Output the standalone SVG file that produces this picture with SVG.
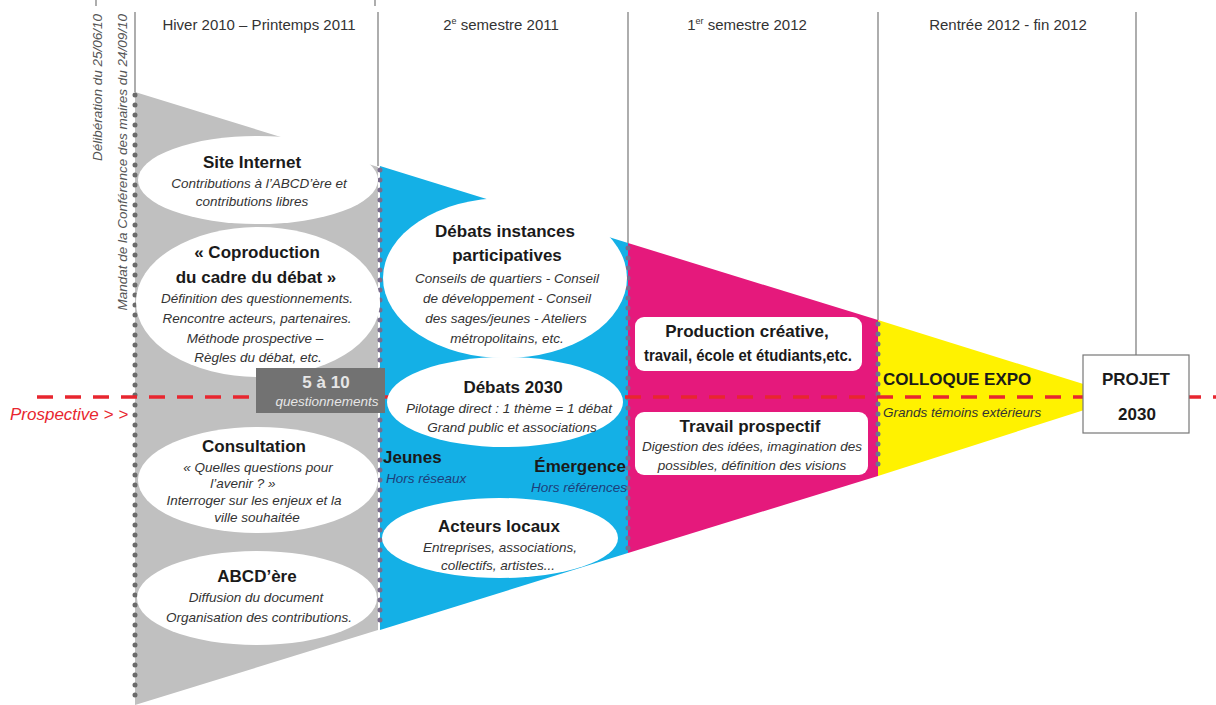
<svg xmlns="http://www.w3.org/2000/svg" width="1216" height="705" viewBox="0 0 1216 705">
<style>
text{font-family:"Liberation Sans",Arial,sans-serif}
.hdr{font-size:15px;fill:#333;text-anchor:middle}
.b{font-weight:bold;font-size:17px;fill:#1a1a1a;text-anchor:middle}
.i{font-style:italic;font-size:13.5px;fill:#333;text-anchor:middle}
.rot{font-style:italic;font-size:13.5px;fill:#555;text-anchor:end}
.col{stroke:#777;stroke-width:1.2;fill:none}
.dots{fill:none;stroke-width:5;stroke-linecap:round;stroke-dasharray:0 10}
.ell{fill:#fff}
.nav{font-style:italic;font-size:13.5px;fill:#1d3f7a}
</style>
<rect width="1216" height="705" fill="#fff"/>
<!-- top ticks -->
<line x1="96" y1="0" x2="96" y2="6" class="col"/>
<line x1="375" y1="0" x2="375" y2="6" class="col"/>
<!-- column lines -->
<g id="columns">
<line x1="135" y1="12" x2="135" y2="92" class="col"/>
<line x1="378" y1="12" x2="378" y2="166" class="col"/>
<line x1="628" y1="12" x2="628" y2="243" class="col"/>
<line x1="878" y1="12" x2="878" y2="320" class="col"/>
<line x1="1136" y1="12" x2="1136" y2="355" class="col"/>
<text class="hdr" x="259" y="30">Hiver 2010 – Printemps 2011</text>
<text class="hdr" x="501" y="30">2<tspan font-size="9" dy="-6">e</tspan><tspan dy="6"> semestre 2011</tspan></text>
<text class="hdr" x="747" y="30">1<tspan font-size="9" dy="-6">er</tspan><tspan dy="6"> semestre 2012</tspan></text>
<text class="hdr" x="1008" y="30">Rentrée 2012 - fin 2012</text>
<text class="rot" transform="translate(102,14) rotate(-90)">Délibération du 25/06/10</text>
<text class="rot" transform="translate(127,14) rotate(-90)">Mandat de la Conférence des maires du 24/09/10</text>
</g>
<!-- phase shapes -->
<g id="phases">
<polygon points="135,92 378,167 378,630 135,705" fill="#c0c0c0"/>
<polygon points="380,166 628,243 628,553 380,630" fill="#14b0e6"/>
<polygon points="628,243 878,320 878,476 628,553" fill="#e5197c"/>
<polygon points="878,320 1125,397 878,476" fill="#fff200"/>
<line x1="135" y1="95" x2="135" y2="702" class="dots" stroke="#6a6a6a"/>
<line x1="380" y1="170" x2="380" y2="628" class="dots" stroke="#7a6c8c"/>
<line x1="628" y1="248" x2="628" y2="550" class="dots" stroke="#7a6c8c"/>
<line x1="878" y1="324" x2="878" y2="474" class="dots" stroke="#6a7690"/>
</g>
<!-- timeline -->
<g id="connectors">
<line x1="37" y1="397" x2="1216" y2="397" stroke="#e8262f" stroke-width="3.5" stroke-dasharray="16 12"/>
<text x="10" y="420" font-style="italic" font-size="17" fill="#e8262f">Prospective &gt; &gt;</text>
</g>
<g id="site-internet">
<ellipse class="ell" cx="258" cy="180" rx="120" ry="44"/>
<text class="b" x="252" y="168">Site Internet</text>
<text class="i" x="259" y="188">Contributions à l’ABCD’ère et</text>
<text class="i" x="252" y="206">contributions libres</text>
</g>
<g id="coproduction">
<ellipse class="ell" cx="258" cy="302" rx="122" ry="75"/>
<text class="b" x="257" y="258">« Coproduction</text>
<text class="b" x="256" y="283">du cadre du débat »</text>
<text class="i" x="257" y="303">Définition des questionnements.</text>
<text class="i" x="257" y="323">Rencontre acteurs, partenaires.</text>
<text class="i" x="255" y="343">Méthode prospective –</text>
<text class="i" x="258" y="362">Règles du débat, etc.</text>
</g>
<g id="questionnements">
<rect x="256" y="368" width="129" height="45" fill="#727272"/>
<text class="b" x="326" y="388" style="fill:#e6e6e6" font-size="15">5 à 10</text>
<text class="i" x="327" y="406" style="fill:#e6e6e6">questionnements</text>
</g>
<g id="consultation">
<ellipse class="ell" cx="258" cy="480" rx="120" ry="53"/>
<text class="b" x="254" y="452">Consultation</text>
<text class="i" x="258" y="472">« Quelles questions pour</text>
<text class="i" x="243" y="488">l’avenir ? »</text>
<text class="i" x="254" y="505">Interroger sur les enjeux et la</text>
<text class="i" x="257" y="522">ville souhaitée</text>
</g>
<g id="abcdere">
<ellipse class="ell" cx="257" cy="598" rx="120" ry="47"/>
<text class="b" x="257" y="582">ABCD’ère</text>
<text class="i" x="256" y="602">Diffusion du document</text>
<text class="i" x="259" y="622">Organisation des contributions.</text>
</g>
<g id="debats-instances">
<ellipse class="ell" cx="505" cy="278" rx="122" ry="80"/>
<text class="b" x="505" y="237">Débats instances</text>
<text class="b" x="507" y="261">participatives</text>
<text class="i" x="507" y="283">Conseils de quartiers - Conseil</text>
<text class="i" x="507" y="303">de développement - Conseil</text>
<text class="i" x="506" y="323">des sages/jeunes - Ateliers</text>
<text class="i" x="507" y="343">métropolitains, etc.</text>
</g>
<g id="debats-2030">
<ellipse class="ell" cx="505" cy="402" rx="118" ry="45"/>
<text class="b" x="513" y="393">Débats 2030</text>
<text class="i" x="509" y="413">Pilotage direct : 1 thème = 1 débat</text>
<text class="i" x="512" y="432">Grand public et associations</text>
</g>
<g id="jeunes">
<text class="b" x="383" y="463" style="text-anchor:start" font-size="16.5">Jeunes</text>
<text class="nav" x="386" y="483">Hors réseaux</text>
</g>
<g id="emergence">
<text class="b" x="626" y="472" style="text-anchor:end" font-size="16.5">Émergence</text>
<text class="nav" x="627" y="492" text-anchor="end">Hors références</text>
</g>
<g id="acteurs-locaux">
<ellipse class="ell" cx="500" cy="538" rx="118" ry="40"/>
<text class="b" x="499" y="532">Acteurs locaux</text>
<text class="i" x="500" y="552">Entreprises, associations,</text>
<text class="i" x="498" y="570">collectifs, artistes...</text>
</g>
<g id="production-creative">
<rect x="635" y="317" width="227" height="54" rx="9" fill="#fff"/>
<text class="b" x="747" y="337" font-size="15">Production créative,</text>
<text class="b" x="748" y="361" font-size="15" textLength="208" lengthAdjust="spacingAndGlyphs">travail, école et étudiants,etc.</text>
</g>
<g id="travail-prospectif">
<rect x="635" y="412" width="233" height="63" rx="9" fill="#fff"/>
<text class="b" x="750" y="432" font-size="16">Travail prospectif</text>
<text class="i" x="752" y="451" font-size="12.5">Digestion des idées, imagination des</text>
<text class="i" x="752" y="470" font-size="12.5">possibles, définition des visions</text>
</g>
<g id="colloque-expo">
<text class="b" x="883" y="385" style="text-anchor:start" font-size="18.5">COLLOQUE EXPO</text>
<text class="i" x="883" y="417" style="text-anchor:start" font-size="14">Grands témoins extérieurs</text>
</g>
<g id="projet-2030">
<rect x="1083" y="355" width="106" height="78" fill="#fff" stroke="#777" stroke-width="1.2"/>
<text class="b" x="1136" y="385" font-size="19">PROJET</text>
<text class="b" x="1137" y="420" font-size="19">2030</text>
</g>
</svg>
